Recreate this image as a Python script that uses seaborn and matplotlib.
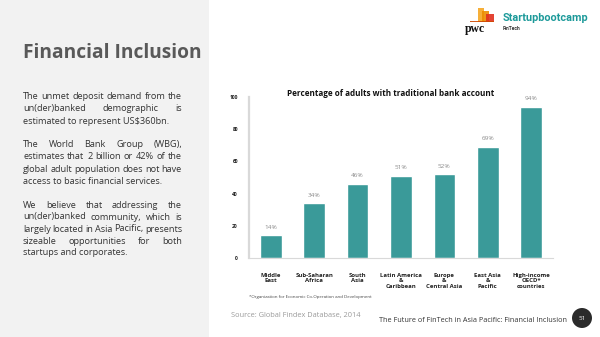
import matplotlib
matplotlib.use("Agg")
import matplotlib.pyplot as plt
from matplotlib.patches import Rectangle, Ellipse
import numpy as np
import pandas as pd
import seaborn as sns

# ---- data ----
regions = ["Middle\nEast", "Sub-Saharan\nAfrica", "South\nAsia",
           "Latin America\n&\nCaribbean", "Europe\n&\nCentral Asia",
           "East Asia\n&\nPacific", "High-income\nOECD*\ncountries"]
pct_banked = [14, 34, 46, 51, 52, 69, 94]
y_ticks = [0, 20, 40, 60, 80, 100]

paragraphs = [
    ["The unmet deposit demand from the",
     "un(der)banked demographic is",
     "estimated to represent US$360bn."],
    ["The World Bank Group (WBG),",
     "estimates that 2 billion or 42% of the",
     "global adult population does not have",
     "access to basic financial services."],
    ["We believe that addressing the",
     "un(der)banked community, which is",
     "largely located in Asia Pacific, presents",
     "sizeable opportunities for both",
     "startups and corporates."],
]
para_y = [[96, 108.5, 121], [144.5, 156.8, 169, 181.3], [205, 217, 229, 241, 252.7]]

W, H = 600, 337
TEAL = "#3a9a99"

sns.set_theme(style="white")
plt.rcParams["font.family"] = ["Open Sans", "DejaVu Sans"]

fig = plt.figure(figsize=(W / 100, H / 100), dpi=100)
fig.patch.set_facecolor("white")


def fx(x):
    return x / W


def fy(y):
    return 1 - y / H


# grey side panel
fig.patches.append(Rectangle((0, 0), fx(209), 1, transform=fig.transFigure,
                             facecolor="#f2f2f2", edgecolor="none", zorder=0))

fig.text(fx(23), fy(53), "Financial Inclusion", fontsize=13.8, fontweight="bold",
         color="#595959", va="center", ha="left")

# justified body copy
renderer = fig.canvas.get_renderer()
left, right = 23, 182
body_kw = dict(fontsize=6.6, color="#333333", va="center", ha="left")
for lines, ys in zip(paragraphs, para_y):
    for i, (line, y) in enumerate(zip(lines, ys)):
        if i == len(lines) - 1:
            fig.text(fx(left), fy(y), line, **body_kw)
            continue
        words = line.split()
        txts = [fig.text(0, fy(y), w, **body_kw) for w in words]
        widths = [t.get_window_extent(renderer).width for t in txts]
        gap = (right - left - sum(widths)) / (len(words) - 1)
        x = left
        for t, w in zip(txts, widths):
            t.set_x(fx(x))
            x += w + gap

# ---- bar chart ----
ax = fig.add_axes([fx(249), fy(258), fx(553 - 249), (258 - 97) / H])
ax.set_facecolor("none")
df = pd.DataFrame({"region": regions, "pct": pct_banked})
sns.barplot(data=df, x="region", y="pct", color=TEAL, width=0.5,
            saturation=1, ax=ax)
ax.set_ylim(0, 100)
ax.set_xlim(-0.5, len(regions) - 0.5)
ax.set_yticks(y_ticks)
ax.set_yticklabels([str(v) for v in y_ticks], fontsize=3.6, fontweight="bold",
                   color="#222222")
ax.set_xticks(range(len(regions)))
ax.set_xticklabels(regions, fontsize=4.3, fontweight="bold", color="#222222",
                   linespacing=1.05, va="top")
ax.tick_params(axis="y", length=0, pad=8)
ax.tick_params(axis="x", length=0, pad=11)
ax.set_xlabel("")
ax.set_ylabel("")
for s in ["top", "right"]:
    ax.spines[s].set_visible(False)
ax.spines["left"].set_color("#d9d9d9")
ax.spines["left"].set_linewidth(1.6)
ax.spines["bottom"].set_color("#d9d9d9")
ax.spines["bottom"].set_linewidth(0.8)
ax.grid(False)

for i, v in enumerate(pct_banked):
    ax.annotate(f"{v}%", (i, v), xytext=(0, 4), textcoords="offset points",
                ha="center", va="bottom", fontsize=4.6, color="#8a8a8a")

fig.text(fx(391), fy(93), "Percentage of adults with traditional bank account",
         fontsize=5.9, fontweight="bold", color="#111111", ha="center", va="center")

fig.text(fx(249), fy(297), "*Organization for Economic Co-Operation and Development",
         fontsize=3.2, color="#444444", ha="left", va="center")
fig.text(fx(231), fy(315), "Source: Global Findex Database, 2014",
         fontsize=5.3, color="#9a9a9a", ha="left", va="center")
fig.text(fx(567), fy(320), "The Future of FinTech in Asia Pacific: Financial Inclusion",
         fontsize=5.2, color="#333333", ha="right", va="center")

# page badge
fig.patches.append(Ellipse((fx(582), fy(318)), 20 / W, 20 / H, transform=fig.transFigure,
                           facecolor="#2b2b2b", edgecolor="none"))
fig.text(fx(582), fy(318), "51", fontsize=4.5, color="white", ha="center", va="center")

# logos
for (x0, y0, w, h, c) in [(478, 8, 6, 14, "#f5a623"), (482, 11, 7, 11, "#eb8c00"),
                           (486, 14, 8, 8, "#e0301e"), (470, 21, 24, 1.2, "#d04a02")]:
    fig.patches.append(Rectangle((fx(x0), fy(y0 + h)), w / W, h / H,
                                 transform=fig.transFigure, facecolor=c,
                                 edgecolor="none", alpha=0.9))
fig.text(fx(475), fy(29), "pwc", fontsize=8.5, fontweight="bold", family="Liberation Serif",
         color="#111111", ha="center", va="center")
fig.text(fx(503), fy(18), "Startupbootcamp", fontsize=7.8, fontweight="bold",
         family="Roboto", color="#1d9a9a", ha="left", va="center")
fig.text(fx(503), fy(29), "FinTech", fontsize=3.6, fontweight="bold",
         family="Roboto", color="#333333", ha="left", va="center")

fig.savefig("out.png", dpi=100)
